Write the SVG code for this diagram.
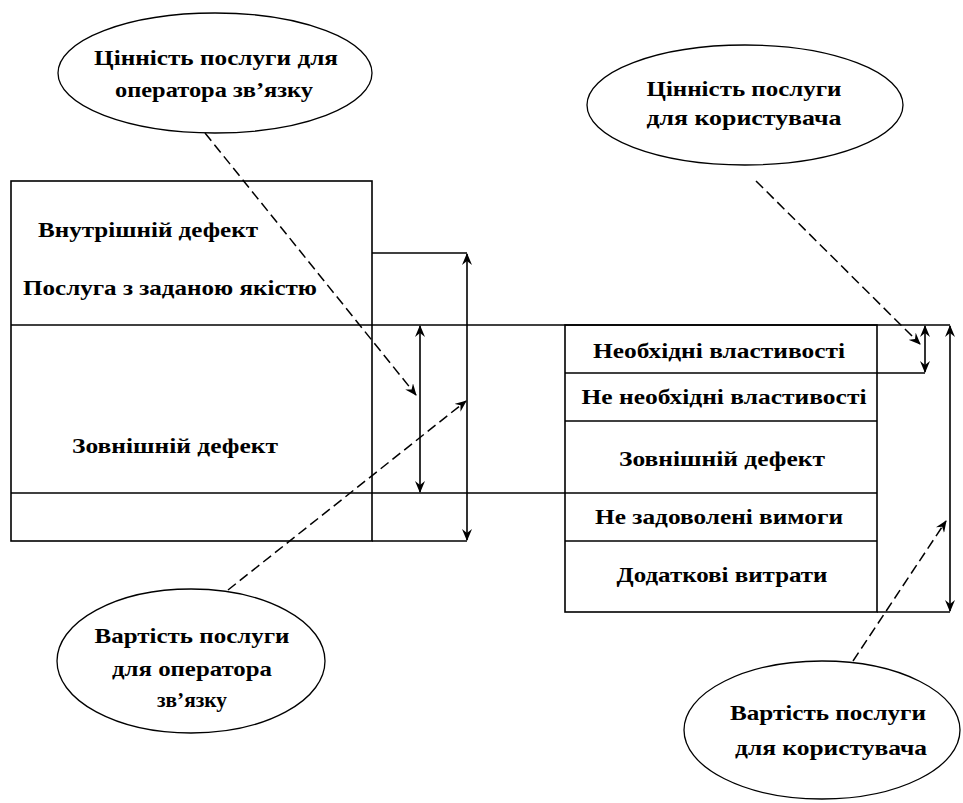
<svg xmlns="http://www.w3.org/2000/svg" width="963" height="803" viewBox="0 0 963 803">
<style>
.ln{stroke:#000;stroke-width:1.6;fill:none}
.el{stroke:#000;stroke-width:1.3;fill:#fff}
.ds{stroke:#000;stroke-width:1.5;fill:none;stroke-dasharray:10 5}
.t{font-family:"Liberation Serif","Times New Roman",serif;font-weight:bold;font-size:21px;fill:#000}
.c{text-anchor:middle}
</style>
<defs>
<marker id="ah" viewBox="0 0 12 10" refX="11" refY="5" markerWidth="12" markerHeight="10" markerUnits="userSpaceOnUse" orient="auto-start-reverse">
<path d="M0,0 L12,5 L0,10 L4,5 z" fill="#000"/>
</marker>
</defs>
<rect width="963" height="803" fill="#fff"/>
<g id="left-block">
<rect class="ln" x="11" y="181" width="361" height="360"/>
<text class="t" x="38" y="237" textLength="220" lengthAdjust="spacingAndGlyphs">Внутрішній дефект</text>
<text class="t" x="23" y="295" textLength="294" lengthAdjust="spacingAndGlyphs">Послуга з заданою якістю</text>
<text class="t" x="72" y="453" textLength="206" lengthAdjust="spacingAndGlyphs">Зовнішній дефект</text>
</g>
<g id="right-table">
<rect class="ln" x="565" y="325" width="312" height="287"/>
<line class="ln" x1="565" y1="421" x2="877" y2="421"/>
<line class="ln" x1="565" y1="493" x2="877" y2="493"/>
<line class="ln" x1="565" y1="541" x2="877" y2="541"/>
<text class="t c" x="719" y="358" textLength="252" lengthAdjust="spacingAndGlyphs">Необхідні властивості</text>
<text class="t c" x="724" y="404" textLength="285" lengthAdjust="spacingAndGlyphs">Не необхідні властивості</text>
<text class="t c" x="722" y="466" textLength="206" lengthAdjust="spacingAndGlyphs">Зовнішній дефект</text>
<text class="t c" x="719" y="524" textLength="248" lengthAdjust="spacingAndGlyphs">Не задоволені вимоги</text>
<text class="t c" x="722" y="582" textLength="211" lengthAdjust="spacingAndGlyphs">Додаткові витрати</text>
</g>
<g id="ellipse-op-value">
<ellipse class="el" cx="215" cy="73" rx="157" ry="60"/>
<text class="t c" x="216" y="65" textLength="244" lengthAdjust="spacingAndGlyphs">Цінність послуги для</text>
<text class="t c" x="214" y="97" textLength="198" lengthAdjust="spacingAndGlyphs">оператора зв’язку</text>
</g>
<g id="ellipse-user-value">
<ellipse class="el" cx="745" cy="105" rx="158" ry="60"/>
<text class="t c" x="744" y="96" textLength="195" lengthAdjust="spacingAndGlyphs">Цінність послуги</text>
<text class="t c" x="744" y="125" textLength="195" lengthAdjust="spacingAndGlyphs">для  користувача</text>
</g>
<g id="ellipse-op-cost">
<ellipse class="el" cx="191" cy="661" rx="134" ry="72"/>
<text class="t c" x="192" y="643" textLength="195" lengthAdjust="spacingAndGlyphs">Вартість послуги</text>
<text class="t c" x="192" y="676" textLength="160" lengthAdjust="spacingAndGlyphs">для оператора</text>
<text class="t c" x="192" y="707" textLength="70" lengthAdjust="spacingAndGlyphs">зв’язку</text>
</g>
<g id="ellipse-user-cost">
<ellipse class="el" cx="822" cy="730" rx="138" ry="69"/>
<text class="t c" x="828" y="720" textLength="196" lengthAdjust="spacingAndGlyphs">Вартість послуги</text>
<text class="t c" x="831" y="755" textLength="192" lengthAdjust="spacingAndGlyphs">для  користувача</text>
</g>
<g id="connectors">
<line class="ln" x1="11" y1="325" x2="950" y2="325"/>
<line class="ln" x1="11" y1="493" x2="565" y2="493"/>
<line class="ln" x1="372" y1="541" x2="467" y2="541"/>
<line class="ln" x1="372" y1="253" x2="467" y2="253"/>
<line class="ln" x1="877" y1="373" x2="925" y2="373"/>
<line class="ln" x1="565" y1="373" x2="877" y2="373"/>
<line class="ln" x1="877" y1="612" x2="950" y2="612"/>
<line class="ln" x1="420" y1="326" x2="420" y2="492" marker-start="url(#ah)" marker-end="url(#ah)"/>
<line class="ln" x1="467" y1="254" x2="467" y2="540" marker-start="url(#ah)" marker-end="url(#ah)"/>
<line class="ln" x1="925" y1="326" x2="925" y2="372" marker-start="url(#ah)" marker-end="url(#ah)"/>
<line class="ln" x1="950" y1="326" x2="950" y2="611" marker-start="url(#ah)" marker-end="url(#ah)"/>
<line class="ds" x1="205" y1="133" x2="416" y2="395" marker-end="url(#ah)"/>
<line class="ds" x1="228" y1="590" x2="466" y2="401" marker-end="url(#ah)"/>
<line class="ds" x1="756" y1="181" x2="920" y2="344" marker-end="url(#ah)"/>
<line class="ds" x1="853" y1="661" x2="946" y2="521" marker-end="url(#ah)"/>
</g>
</svg>
